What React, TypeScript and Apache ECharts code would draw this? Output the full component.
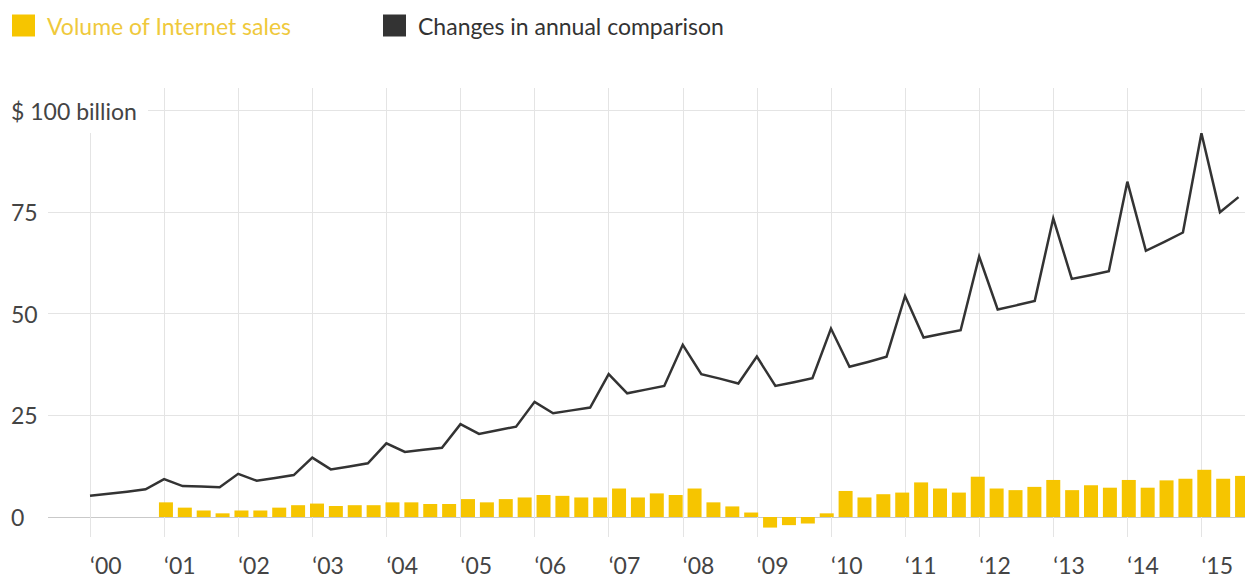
import { useEffect, useRef } from "react";
import * as echarts from "echarts";

// Quarterly Internet sales volume ($ billion), 1999 Q4 – 2015 Q2
const lineValues = [
  5.2,
  5.7, 6.2, 6.8, 9.3,
  7.6, 7.5, 7.3, 10.6,
  8.9, 9.6, 10.3, 14.6,
  11.7, 12.4, 13.2, 18.1,
  16.0, 16.5, 17.0, 22.8,
  20.4, 21.3, 22.2, 28.3,
  25.5, 26.2, 26.9, 35.1,
  30.4, 31.3, 32.2, 42.3,
  35.1, 34.0, 32.8, 39.4,
  32.2, 33.1, 34.1, 46.3,
  36.9, 38.1, 39.4, 54.3,
  44.1, 45.0, 45.9, 64.0,
  51.0, 52.0, 53.1, 73.4,
  58.5, 59.4, 60.4, 82.4,
  65.4, 67.6, 69.9, 94.3,
  74.9, 78.6,
];

// Change in annual comparison ($ billion), 2001 Q1 – 2015 Q2
const barValues = [
  3.6, 2.3, 1.6, 0.9,
  1.6, 1.6, 2.3, 2.9,
  3.3, 2.7, 2.9, 2.9,
  3.6, 3.6, 3.2, 3.2,
  4.4, 3.6, 4.4, 4.8,
  5.4, 5.2, 4.8, 4.8,
  7.0, 4.8, 5.8, 5.4,
  7.0, 3.6, 2.6, 1.1,
  -2.6, -2.0, -1.6, 0.9,
  6.4, 4.8, 5.6, 6.0,
  8.5, 7.0, 6.0, 9.9,
  7.0, 6.6, 7.4, 9.1,
  6.6, 7.8, 7.2, 9.1,
  7.2, 9.0, 9.4, 11.6,
  9.4, 10.1,
];

const quarterNames = ["Q1", "Q2", "Q3", "Q4"];
const years = [2000, 2001, 2002, 2003, 2004, 2005, 2006, 2007, 2008, 2009, 2010, 2011, 2012, 2013, 2014, 2015];
const yearLabels = ["\u201800", "\u201801", "\u201802", "\u201803", "\u201804", "\u201805", "\u201806", "\u201807", "\u201808", "\u201809", "\u201810", "\u201811", "\u201812", "\u201813", "\u201814", "\u201815"];
const yTicks = [0, 25, 50, 75, 100];

const lineQuarters = ["1999 Q4", ...years.flatMap((y) => quarterNames.map((q) => `${y} ${q}`))].slice(0, lineValues.length);
const barQuarters = years.slice(1).flatMap((y) => quarterNames.map((q) => `${y} ${q}`)).slice(0, barValues.length);

const SALES = "Volume of Internet sales";
const CHANGE = "Changes in annual comparison";
const YELLOW = "#F6C500";
const DARK = "#333333";
const FONT = "Lato";

export default function App() {
  const ref = useRef<HTMLDivElement>(null);

  useEffect(() => {
    if (!ref.current) return;
    const chart = echarts.init(ref.current, undefined, { renderer: "svg" });
    const yMin = yTicks[0];
    const yMax = yTicks[yTicks.length - 1];
    const yInterval = yTicks[1] - yTicks[0];

    const option: any = {
      animation: false,
      backgroundColor: "#ffffff",
      textStyle: { fontFamily: FONT },
      legend: [
        {
          left: 12,
          top: 14,
          padding: 0,
          itemWidth: 23,
          itemHeight: 22,
          selectedMode: false,
          data: [{ name: SALES, icon: "rect", itemStyle: { color: YELLOW } }],
          textStyle: { fontFamily: FONT, fontSize: 23, color: "#EFC93C", padding: [0, 0, 0, 7] },
        },
        {
          left: 383,
          top: 14,
          padding: 0,
          itemWidth: 23,
          itemHeight: 22,
          selectedMode: false,
          data: [{ name: CHANGE, icon: "rect", itemStyle: { color: DARK } }],
          textStyle: { fontFamily: FONT, fontSize: 23, color: "#333333", padding: [0, 0, 0, 7] },
        },
      ],
      grid: [
        { left: 11, right: 0, top: 110, bottom: 61, outerBoundsMode: "none" },
        { left: 90, right: 6.5, top: 88, bottom: 41, outerBoundsMode: "none" },
        { left: 90, right: 6.5, top: 110, bottom: 61, outerBoundsMode: "none" },
        { left: 156.5, width: 1095, top: 110, bottom: 61, outerBoundsMode: "none" },
      ],
      xAxis: [
        { type: "value", gridIndex: 0, show: false, min: 0, max: 1 },
        {
          type: "category",
          gridIndex: 1,
          data: lineQuarters,
          boundaryGap: false,
          axisLine: { show: false },
          axisTick: { show: false },
          splitLine: {
            show: true,
            interval: (i: number) => i % 4 === 0,
            lineStyle: { color: "#e4e4e4", width: 1 },
          },
          axisLabel: {
            interval: (i: number) => i % 4 === 0,
            formatter: (_v: string, i: number) => yearLabels[i / 4] ?? "",
            align: "left",
            margin: 16,
            fontFamily: FONT,
            fontSize: 23,
            color: "#444444",
          },
        },
        { type: "category", gridIndex: 2, data: lineQuarters, boundaryGap: false, show: false },
        { type: "category", gridIndex: 3, data: barQuarters, boundaryGap: true, show: false },
      ],
      yAxis: [
        {
          type: "value",
          gridIndex: 0,
          min: yMin,
          max: yMax,
          interval: yInterval,
          axisLine: { show: false },
          axisTick: { show: false },
          axisLabel: { show: false },
          splitLine: {
            show: true,
            lineStyle: { color: ["#c9c9c9", "#e4e4e4", "#e4e4e4", "#e4e4e4", "#e4e4e4"], width: 1 },
          },
        },
        {
          type: "value",
          gridIndex: 0,
          position: "left",
          z: 10,
          min: yMin,
          max: yMax,
          interval: yInterval,
          axisLine: { show: false },
          axisTick: { show: false },
          splitLine: { show: false },
          axisLabel: {
            show: true,
            inside: true,
            align: "left",
            margin: 0,
            fontFamily: FONT,
            fontSize: 23,
            color: "#444444",
            formatter: (v: number) => (v === yMax ? `{big|$ ${v} billion}` : `{num|${v}}`),
            rich: {
              num: {
                fontFamily: FONT,
                fontSize: 23,
                color: "#444444",
                width: 37,
                align: "left",
                backgroundColor: "#ffffff",
              },
              big: {
                fontFamily: FONT,
                fontSize: 23,
                color: "#444444",
                width: 137,
                align: "left",
                backgroundColor: "#ffffff",
                padding: [12, 0, 11, 0],
              },
            },
          },
        },
        { type: "value", gridIndex: 1, min: 0, max: 1, show: false, splitLine: { show: false } },
        { type: "value", gridIndex: 2, min: yMin, max: yMax, show: false, splitLine: { show: false } },
        { type: "value", gridIndex: 3, min: yMin, max: yMax, show: false, splitLine: { show: false } },
      ],
      series: [
        {
          name: SALES,
          type: "bar",
          xAxisIndex: 3,
          yAxisIndex: 4,
          data: barValues,
          barWidth: 14,
          clip: false,
          itemStyle: { color: YELLOW },
          z: 3,
        },
        {
          name: CHANGE,
          type: "line",
          xAxisIndex: 2,
          yAxisIndex: 3,
          data: lineValues,
          showSymbol: false,
          symbol: "none",
          clip: false,
          itemStyle: { color: DARK },
          lineStyle: { color: DARK, width: 2.5, join: "miter", miterLimit: 10 },
          z: 4,
        },
      ],
    };

    chart.setOption(option);
    return () => chart.dispose();
  }, []);

  return (
    <div
      ref={ref}
      style={{ position: "absolute", left: 0, top: 0, width: 1245, height: 578, background: "#fff" }}
    />
  );
}
